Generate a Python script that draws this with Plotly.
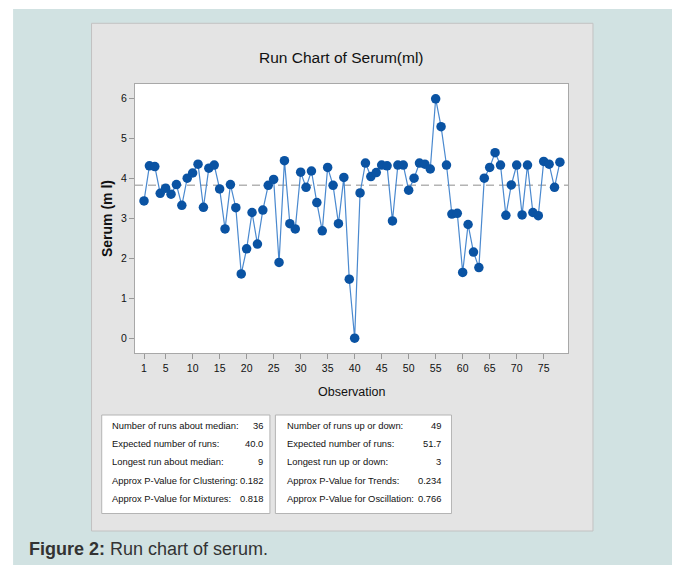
import plotly.graph_objects as go

# ---- data ----
observation = list(range(1, 79))
serum = [3.44, 4.32, 4.30, 3.63, 3.76, 3.61, 3.85, 3.33, 4.01, 4.14,
         4.36, 3.28, 4.26, 4.34, 3.74, 2.74, 3.85, 3.27, 1.61, 2.24,
         3.15, 2.36, 3.21, 3.83, 3.98, 1.90, 4.45, 2.87, 2.74, 4.16,
         3.78, 4.19, 3.40, 2.69, 4.28, 3.83, 2.87, 4.03, 1.48, 0.00,
         3.64, 4.39, 4.05, 4.15, 4.34, 4.32, 2.94, 4.34, 4.34, 3.71,
         4.01, 4.39, 4.36, 4.24, 6.00, 5.30, 4.34, 3.11, 3.13, 1.65,
         2.85, 2.16, 1.77, 4.01, 4.28, 4.65, 4.34, 3.08, 3.84, 4.34,
         3.09, 4.34, 3.15, 3.07, 4.43, 4.36, 3.78, 4.41]
median_value = 3.835

x_ticks = [1, 5, 10, 15, 20, 25, 30, 35, 40, 45, 50, 55, 60, 65, 70, 75]
y_ticks = [0, 1, 2, 3, 4, 5, 6]

left_labels = ["Number of runs about median:", "Expected number of runs:",
               "Longest run about median:", "Approx P-Value for Clustering:",
               "Approx P-Value for Mixtures:"]
left_values = ["36", "40.0", "9", "0.182", "0.818"]
right_labels = ["Number of runs up or down:", "Expected number of runs:",
                "Longest run up or down:", "Approx P-Value for Trends:",
                "Approx P-Value for Oscillation:"]
right_values = ["49", "51.7", "3", "0.234", "0.766"]

title_text = "Run Chart of Serum(ml)"
x_title = "Observation"
y_title = "Serum (m l)"
caption_bold = "Figure 2:"
caption_rest = " Run chart of serum."

# ---- layout geometry (page pixels; the page body has an 8px margin) ----
OFF = 8
W, H = 680 - OFF, 565 - OFF
L, R, T, B = 135, 568.3, 84, 353

def px(x):
    return (x - L) / (R - L)

def py(y):
    return (B - y) / (B - T)

FONT = "Liberation Sans, Arial, sans-serif"
TXT = "#111111"

fig = go.Figure()
fig.add_trace(go.Scatter(
    x=observation, y=serum, mode="lines+markers",
    line=dict(color="#4a89cf", width=1.2),
    marker=dict(color="#0a53a3", size=9.5, line=dict(width=0)),
    showlegend=False, hoverinfo="x+y"))

shapes = [
    dict(type="rect", xref="paper", yref="paper", x0=px(13), x1=px(675),
         y0=py(575), y1=py(9), fillcolor="#d1e2e2", line=dict(width=0), layer="below"),
    dict(type="rect", xref="paper", yref="paper", x0=px(91.5), x1=px(593.3),
         y0=py(531), y1=py(23.3), fillcolor="#e4e4e4",
         line=dict(color="#c2c2c2", width=1), layer="below"),
    dict(type="rect", xref="paper", yref="paper", x0=0, x1=1, y0=0, y1=1,
         fillcolor="white", line=dict(width=0), layer="below"),
    dict(type="rect", xref="paper", yref="paper", x0=px(101.7), x1=px(270),
         y0=py(513.5), y1=py(415), fillcolor="white",
         line=dict(color="#b4b4b4", width=1), layer="below"),
    dict(type="rect", xref="paper", yref="paper", x0=px(275.5), x1=px(451.7),
         y0=py(513.5), y1=py(415), fillcolor="white",
         line=dict(color="#b4b4b4", width=1), layer="below"),
    dict(type="line", xref="paper", yref="y", x0=0, x1=1,
         y0=median_value, y1=median_value,
         line=dict(color="#8e8e8e", width=1, dash="8px,5px"), layer="below"),
]

annotations = [
    dict(text=title_text, xref="paper", yref="paper", x=px(342), y=py(58),
         xanchor="center", yanchor="middle", showarrow=False,
         font=dict(family=FONT, size=15.5, color=TXT)),
    dict(text=x_title, xref="paper", yref="paper", x=px(352), y=py(392),
         xanchor="center", yanchor="middle", showarrow=False,
         font=dict(family=FONT, size=12.5, color=TXT)),
    dict(text="<b>" + y_title + "</b>", xref="paper", yref="paper", x=px(107), y=py(219),
         xanchor="center", yanchor="middle", showarrow=False, textangle=-90,
         font=dict(family=FONT, size=14, color=TXT)),
    dict(text="<b>" + caption_bold + "</b>" + caption_rest, xref="paper", yref="paper",
         x=px(27), y=py(549), xanchor="left", yanchor="middle", showarrow=False,
         font=dict(family=FONT, size=18, color="#333333")),
]

row_y = [425, 443.3, 461.7, 480, 498.3]
SF = dict(family=FONT, size=9.4, color=TXT)
for i in range(5):
    annotations.append(dict(text=left_labels[i], xref="paper", yref="paper",
                            x=px(109.5), y=py(row_y[i]), xanchor="left", yanchor="middle",
                            showarrow=False, font=SF))
    annotations.append(dict(text=left_values[i], xref="paper", yref="paper",
                            x=px(265), y=py(row_y[i]), xanchor="right", yanchor="middle",
                            showarrow=False, font=SF))
    annotations.append(dict(text=right_labels[i], xref="paper", yref="paper",
                            x=px(285.5), y=py(row_y[i]), xanchor="left", yanchor="middle",
                            showarrow=False, font=SF))
    annotations.append(dict(text=right_values[i], xref="paper", yref="paper",
                            x=px(443.5), y=py(row_y[i]), xanchor="right", yanchor="middle",
                            showarrow=False, font=SF))

fig.update_layout(
    width=W, height=H,
    margin=dict(l=L - OFF, r=W - (R - OFF), t=T - OFF, b=H - (B - OFF), pad=0),
    paper_bgcolor="white", plot_bgcolor="rgba(0,0,0,0)",
    shapes=shapes, annotations=annotations,
    xaxis=dict(range=[-0.67, 79.5], tickmode="array", tickvals=x_ticks,
               ticks="outside", ticklen=5, tickcolor="#999999", tickwidth=1,
               showline=True, linecolor="#a8a8a8", linewidth=1, mirror=True,
               showgrid=False, zeroline=False,
               tickfont=dict(family=FONT, size=10.5, color=TXT)),
    yaxis=dict(range=[-0.37, 6.37], tickmode="array", tickvals=y_ticks,
               ticks="outside", ticklen=5, tickcolor="#999999", tickwidth=1,
               showline=True, linecolor="#a8a8a8", linewidth=1, mirror=True,
               showgrid=False, zeroline=False,
               tickfont=dict(family=FONT, size=10.5, color=TXT)),
)

fig.write_html("out.html")
